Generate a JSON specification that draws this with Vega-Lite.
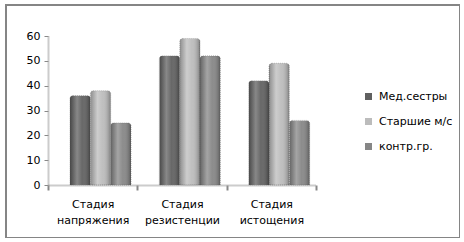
{
  "$schema": "https://vega.github.io/schema/vega-lite/v6.json",
  "autosize": "none",
  "width": 454,
  "height": 233,
  "padding": {"left": 6, "top": 5, "right": 0, "bottom": 0},
  "background": "white",
  "config": {
    "view": {"stroke": "#858585", "strokeWidth": 2},
    "font": "DejaVu Sans",
    "axis": {"labelFont": "DejaVu Sans", "labelFontSize": 11, "labelColor": "#000000", "grid": false, "title": null}
  },
  "data": {
    "values": [
      {"stage": "Стадия напряжения", "series": "Мед.сестры", "value": 36},
      {"stage": "Стадия напряжения", "series": "Старшие м/с", "value": 38},
      {"stage": "Стадия напряжения", "series": "контр.гр.", "value": 25},
      {"stage": "Стадия резистенции", "series": "Мед.сестры", "value": 52},
      {"stage": "Стадия резистенции", "series": "Старшие м/с", "value": 59},
      {"stage": "Стадия резистенции", "series": "контр.гр.", "value": 52},
      {"stage": "Стадия истощения", "series": "Мед.сестры", "value": 42},
      {"stage": "Стадия истощения", "series": "Старшие м/с", "value": 49},
      {"stage": "Стадия истощения", "series": "контр.гр.", "value": 26}
    ]
  },
  "encoding": {
    "x": {
      "field": "stage", "type": "nominal", "sort": null,
      "scale": {"range": [42, 310], "paddingInner": 0, "paddingOuter": 0},
      "axis": {
        "offset": -53, "labelAngle": 0, "labelExpr": "split(datum.label, ' ')",
        "labelLineHeight": 16, "labelPadding": 8,
        "tickBand": "extent", "tickSize": 5, "tickColor": "#888888", "tickWidth": 2,
        "domainColor": "#999999", "domainDash": [1, 1], "domainWidth": 2
      }
    },
    "xOffset": {"field": "series", "type": "nominal", "sort": ["Мед.сестры", "Старшие м/с", "контр.гр."], "scale": {"range": [22, 83], "paddingInner": 0, "paddingOuter": 0}},
    "y": {
      "field": "value", "type": "quantitative",
      "scale": {"domain": [0, 60], "range": [180, 31], "nice": false},
      "axis": {
        "offset": -42, "values": [0, 10, 20, 30, 40, 50, 60], "tickSize": 4, "labelPadding": 4,
        "tickColor": "#888888", "domainColor": "#999999", "domainDash": [1, 1], "domainWidth": 2
      }
    }
  },
  "layer": [
    {
      "mark": {"type": "bar", "stroke": "#6a6a6a", "strokeWidth": 0.5, "strokeDash": [1, 1], "cornerRadiusEnd": 3},
      "encoding": {
        "color": {
          "field": "series", "type": "nominal", "sort": ["Мед.сестры", "Старшие м/с", "контр.гр."],
          "scale": {"range": ["#606060", "#bcbcbc", "#868686"]},
          "legend": {
            "title": null, "orient": "none", "legendX": 357, "legendY": 86,
            "symbolType": "square", "symbolSize": 49, "symbolStrokeWidth": 0,
            "labelFont": "DejaVu Sans", "labelFontSize": 11, "labelColor": "#000000",
            "rowPadding": 13, "labelOffset": 5
          }
        }
      }
    },
    {
      "mark": {
        "type": "bar",
        "cornerRadiusEnd": 3,
        "color": {
          "x1": 0, "y1": 0, "x2": 1, "y2": 0, "gradient": "linear",
          "stops": [
            {"offset": 0, "color": "rgba(0,0,0,0.25)"},
            {"offset": 0.35, "color": "rgba(255,255,255,0.25)"},
            {"offset": 0.6, "color": "rgba(255,255,255,0.05)"},
            {"offset": 1, "color": "rgba(0,0,0,0.32)"}
          ]
        }
      }
    }
  ]
}
